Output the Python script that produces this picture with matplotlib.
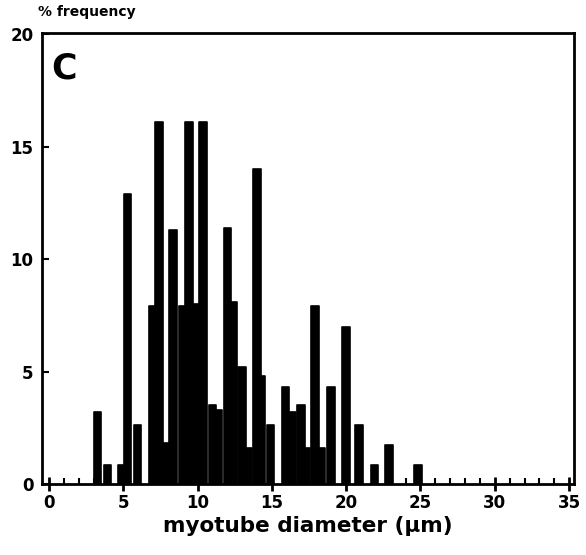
import matplotlib
matplotlib.use("Agg")
import matplotlib.pyplot as plt
from matplotlib.ticker import MultipleLocator

# Data
diameters = [3.26, 3.94, 4.88, 5.28, 5.96, 6.97, 7.40, 7.91, 8.34, 8.98, 9.42,
             9.89, 10.36, 11.0, 11.4, 12.0, 12.4, 13.0, 13.4, 14.0, 14.3, 14.9,
             15.9, 16.35, 16.96, 17.3, 17.9, 18.3, 18.98, 19.99, 20.86, 21.9,
             22.88, 24.83]
frequency = [3.2, 0.85, 0.85, 12.9, 2.6, 7.9, 16.1, 1.8, 11.3, 7.9, 16.1,
             8.0, 16.1, 3.5, 3.3, 11.4, 8.1, 5.2, 1.6, 14.0, 4.8, 2.6,
             4.3, 3.2, 3.5, 1.6, 7.9, 1.6, 4.3, 7.0, 2.6, 0.85,
             1.75, 0.85]
x_ticks = [0, 5, 10, 15, 20, 25, 30, 35]
y_ticks = [0, 5, 10, 15, 20]

plt.rcParams['font.family'] = ['DejaVu Sans']
W = 'bold'

fig = plt.figure(figsize=(5.86, 5.55), dpi=100)
ax = fig.add_axes([0.0717, 0.128, 0.9078, 0.8125])

ax.bar(diameters, frequency, width=0.5, color='black', edgecolor='black',
       linewidth=1.2, joinstyle='round', zorder=2)

ax.set_xlim(-0.47, 35.33)
ax.set_ylim(0, 20.05)
ax.set_xticks(x_ticks)
ax.set_yticks(y_ticks)
ax.xaxis.set_minor_locator(MultipleLocator(1))
ax.set_xticklabels([str(t) for t in x_ticks], fontsize=12, fontweight=W)
ax.set_yticklabels([str(t) for t in y_ticks], fontsize=12, fontweight=W)

ax.tick_params(axis='x', which='major', direction='inout', length=10, width=2, pad=2)
ax.tick_params(axis='x', which='minor', direction='in', length=4, width=1.5)
ax.tick_params(axis='y', which='major', direction='in', length=5, width=1.5, pad=6)

for s in ax.spines.values():
    s.set_linewidth(2)
    s.set_color('black')

ax.set_xlabel('myotube diameter (µm)', fontsize=15.5, fontweight=W, labelpad=3)
fig.text(0.065, 0.965, '% frequency', fontsize=10, fontweight=W,
         ha='left', va='bottom')
ax.text(0.018, 0.96, 'C', transform=ax.transAxes, fontsize=25,
        fontweight=W, ha='left', va='top')

fig.savefig('out.png', dpi=100)
